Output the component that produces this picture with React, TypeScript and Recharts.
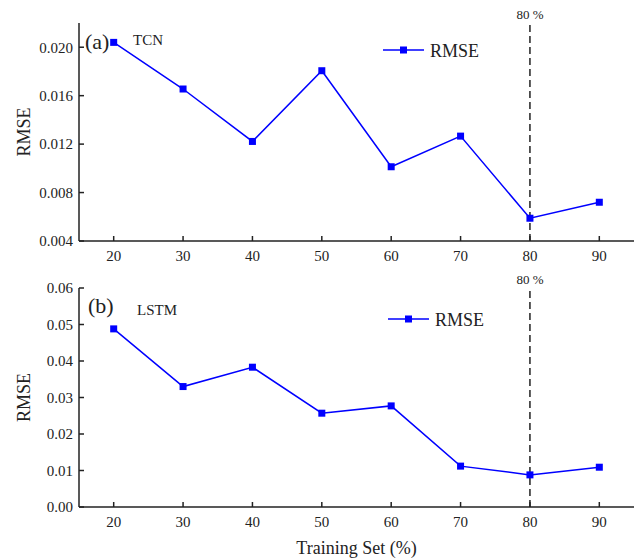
import React from "react"
import {
  LineChart,
  Line,
  XAxis,
  YAxis,
  ReferenceLine,
  Legend,
  Label,
  Customized,
} from "recharts"

const trainingSet = [20, 30, 40, 50, 60, 70, 80, 90]
const tcnRmse = [0.0204, 0.01655, 0.01222, 0.01806, 0.01013, 0.01266, 0.00588, 0.0072]
const lstmRmse = [0.0488, 0.033, 0.0383, 0.0257, 0.0277, 0.0112, 0.0088, 0.0109]
const tcnTicks = [0.004, 0.008, 0.012, 0.016, 0.02]
const lstmTicks = [0, 0.01, 0.02, 0.03, 0.04, 0.05, 0.06]

const FONT = "'Liberation Serif', 'Times New Roman', serif"
const INK = "#222"
const BLUE = "#0000ff"

const SquareDot = (props: any) => {
  const { cx, cy, index } = props
  if (cx == null || cy == null) return <g key={`d-${index}`} />
  return <rect key={`d-${index}`} x={cx - 3.5} y={cy - 3.5} width={7} height={7} fill={BLUE} />
}

const LegendBox = () => (
  <svg width={120} height={24} style={{ display: "block" }}>
    <line x1={0} y1={12} x2={41} y2={12} stroke={BLUE} strokeWidth={1.5} />
    <rect x={17} y={8.5} width={7} height={7} fill={BLUE} />
    <text x={47} y={19} fontSize={18} fontFamily={FONT} fill={INK}>
      RMSE
    </text>
  </svg>
)

interface PanelProps {
  values: number[]
  yDomain: [number, number]
  yTicks: number[]
  digits: number
  height: number
  top: number
  bottomAxisHeight: number
  tag: string
  tagBaseline: number
  tagX: number
  model: string
  modelBaseline: number
  modelX: number
  legendTop: number
  legendLeft: number
  showXTitle?: boolean
}

function Panel(p: PanelProps) {
  const data = trainingSet.map((x, i) => ({ x, rmse: p.values[i] }))
  return (
    <LineChart
      width={638}
      height={p.height}
      data={data}
      margin={{ top: p.top, right: 4, left: 0, bottom: 0 }}
      style={{ fontFamily: FONT }}
    >
      <XAxis
        dataKey="x"
        type="number"
        domain={[15, 95]}
        ticks={trainingSet}
        allowDataOverflow
        height={p.bottomAxisHeight}
        tickSize={-5}
        tickMargin={14}
        stroke={INK}
        strokeWidth={1.5}
        tick={{ fontSize: 15, fill: INK, fontFamily: FONT }}
      >
        {p.showXTitle && (
          <Label
            content={({ viewBox }: any) => (
              <text
                x={viewBox.x + viewBox.width / 2}
                y={viewBox.y + viewBox.height - 4}
                textAnchor="middle"
                fontSize={18}
                fontFamily={FONT}
                fill={INK}
              >
                Training Set (%)
              </text>
            )}
          />
        )}
      </XAxis>
      <XAxis
        xAxisId="top"
        orientation="top"
        dataKey="x"
        type="number"
        domain={[15, 95]}
        ticks={trainingSet}
        height={0}
        tickSize={-5}
        tickFormatter={() => ""}
        stroke={INK}
        strokeWidth={1.5}
      />
      <YAxis
        type="number"
        domain={p.yDomain}
        ticks={p.yTicks}
        allowDataOverflow
        width={79}
        tickSize={-5}
        tickMargin={11}
        tickFormatter={(v: number) => v.toFixed(p.digits)}
        stroke={INK}
        strokeWidth={1.5}
        tick={{ fontSize: 15, fill: INK, fontFamily: FONT }}
      >
        <Label
          content={({ viewBox }: any) => {
            const cy = viewBox.y + viewBox.height / 2
            return (
              <text
                x={24}
                y={cy}
                transform={`rotate(-90 24 ${cy})`}
                textAnchor="middle"
                dominantBaseline="central"
                fontSize={18}
                fontFamily={FONT}
                fill={INK}
              >
                RMSE
              </text>
            )
          }}
        />
      </YAxis>
      <YAxis
        yAxisId="right"
        orientation="right"
        type="number"
        domain={p.yDomain}
        ticks={p.yTicks}
        width={0}
        tickSize={-5}
        tickFormatter={() => ""}
        stroke={INK}
        strokeWidth={1.5}
      />
      <ReferenceLine
        x={80}
        stroke={INK}
        strokeWidth={1.5}
        strokeDasharray="7 4"
        label={{ value: "80 %", position: "top", offset: 4, fontSize: 13, fill: INK, fontFamily: FONT }}
      />
      <Line
        dataKey="rmse"
        stroke={BLUE}
        strokeWidth={1.5}
        dot={SquareDot}
        activeDot={false}
        isAnimationActive={false}
      />
      <Legend
        layout="horizontal"
        verticalAlign="middle"
        align="center"
        content={() => <LegendBox />}
        wrapperStyle={{ left: p.legendLeft, top: p.legendTop, width: 120, height: 24 }}
      />
      <Customized
        component={() => (
          <g fontFamily={FONT} fill={INK}>
            <text x={p.tagX} y={p.tagBaseline} fontSize={22}>
              {p.tag}
            </text>
            <text x={p.modelX} y={p.modelBaseline} fontSize={15}>
              {p.model}
            </text>
          </g>
        )}
      />
    </LineChart>
  )
}

export default function App() {
  return (
    <div
      style={{
        position: "absolute",
        left: 0,
        top: 0,
        width: 638,
        height: 558,
        background: "#fff",
        fontFamily: FONT,
      }}
    >
      <style>{`.recharts-text, .recharts-label { font-family: ${FONT}; }`}</style>
      <div style={{ position: "absolute", left: 0, top: 0 }}>
        <Panel
          values={tcnRmse}
          yDomain={[0.004, 0.022]}
          yTicks={tcnTicks}
          digits={3}
          height={270}
          top={23}
          bottomAxisHeight={29}
          tag="(a)"
          tagX={85}
          tagBaseline={49}
          model="TCN"
          modelX={133}
          modelBaseline={45}
          legendLeft={383}
          legendTop={38}
        />
      </div>
      <div style={{ position: "absolute", left: 0, top: 260 }}>
        <Panel
          values={lstmRmse}
          yDomain={[0, 0.06]}
          yTicks={lstmTicks}
          digits={2}
          height={298}
          top={28}
          bottomAxisHeight={51}
          tag="(b)"
          tagX={88}
          tagBaseline={53}
          model="LSTM"
          modelX={137}
          modelBaseline={55}
          legendLeft={388}
          legendTop={47}
          showXTitle
        />
      </div>
    </div>
  )
}
